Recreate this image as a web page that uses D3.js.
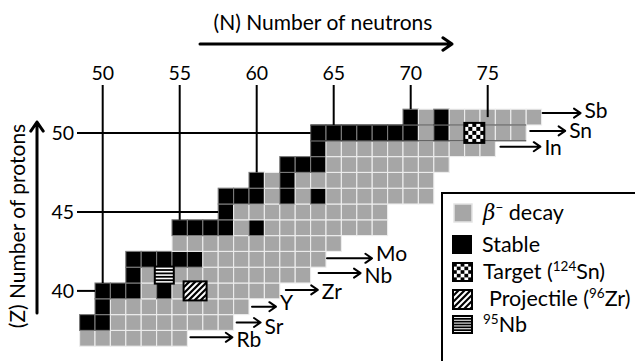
<!DOCTYPE html>
<html>
<head>
<meta charset="utf-8">
<script src="https://cdn.jsdelivr.net/npm/d3@7"></script>
<style>
  body { margin: 0; background: #fff; }
  svg { display: block; }
  text { font-family: Lato, "Open Sans", sans-serif; fill: #000; }
</style>
</head>
<body>
<svg id="chart" width="635" height="361"></svg>
<script>
// Section of the chart of nuclides around the 96Zr + 124Sn reaction.
const elements      = ["Rb", "Sr", "Y", "Zr", "Nb", "Mo", "Tc", "Ru", "Rh", "Pd", "Ag", "Cd", "In", "Sn", "Sb"];
const protonNumbers = [37, 38, 39, 40, 41, 42, 43, 44, 45, 46, 47, 48, 49, 50, 51];
// neutron range drawn for each element (first and last N)
const firstN = [49, 49, 50, 50, 52, 52, 55, 55, 58, 58, 60, 62, 64, 64, 70];
const lastN  = [55, 58, 59, 61, 63, 64, 65, 68, 68, 71, 71, 72, 75, 77, 78];
// stable isotopes (by neutron number) in each row
const stableN = [
  [],
  [49, 50],
  [50],
  [50, 51, 52, 54, 56],
  [52],
  [52, 53, 54, 55, 56],
  [],
  [55, 56, 57, 58, 60],
  [58],
  [58, 59, 60, 62, 64],
  [60, 62],
  [62, 63, 64],
  [64],
  [64, 65, 66, 67, 68, 69, 70, 72, 74],
  [70, 72]
];
// highlighted nuclides
const markedNuclides = [
  { kind: "target",     Z: 50, N: 74 },   // 124Sn
  { kind: "projectile", Z: 40, N: 56 },   // 96Zr
  { kind: "nb95",       Z: 41, N: 54 }    // 95Nb
];
const neutronTicks  = [50, 55, 60, 65, 70, 75];
const neutronTickZ  = [40, 44, 47, 50, 51, 51];  // row where each N guide line stops
const protonTicks   = [40, 45, 50];
const protonTickN   = [50, 58, 64];              // column where each Z guide line stops
// elements labelled with a decay-direction arrow
const arrowElements = ["Rb", "Sr", "Y", "Zr", "Nb", "Mo", "In", "Sn", "Sb"];

// ---- layout ----
const arrowLayout = {
  Rb: { gap: 3, len: 42, dy: -1, ty: 3 },
  Sr: { gap: 3, len: 24, dy: 0,  ty: 4 },
  Y:  { gap: 3, len: 24, dy: 0,  ty: -4 },
  Zr: { gap: 6, len: 32, dy: -1, ty: 2 },
  Nb: { gap: 8, len: 42, dy: -2, ty: 3 },
  Mo: { gap: 1, len: 45, dy: -1, ty: -4 },
  In: { gap: 5, len: 40, dy: -2, ty: 1 },
  Sn: { gap: 4, len: 35, dy: -2, ty: 0 },
  Sb: { gap: 1, len: 38, dy: -4, ty: -2 }
};
const markerSize = { target: [20, 20], projectile: [23, 19], nb95: [19, 17] };
const labelFont = 21;

const svg = d3.select("#chart");
const x = d3.scaleLinear().domain([49, 79]).range([79.6, 541.6]);   // left edge of column N
const y = d3.scaleLinear().domain([37, 52]).range([346.2, 109.2]);  // bottom edge of row Z
const cw = x(1) - x(0), ch = y(0) - y(1);
const cx = n => x(n) + cw / 2;
const cy = z => y(z + 1) + ch / 2;

// ---- cells ----
const cells = [];
protonNumbers.forEach((Z, i) => {
  d3.range(firstN[i], lastN[i] + 1).forEach(N => {
    cells.push({ Z, N, stable: stableN[i].includes(N) });
  });
});

svg.append("g").selectAll("rect").data(cells).join("rect")
  .attr("x", d => x(d.N))
  .attr("y", d => y(d.Z + 1))
  .attr("width", cw)
  .attr("height", ch)
  .attr("fill", d => d.stable ? "#000" : "#a6a6a6")
  .attr("stroke", d => d.stable ? "#7a7a7a" : "#ededed")
  .attr("stroke-width", 1.1);

// outline of the Z = 50 row
const snIdx = protonNumbers.indexOf(50);
[51, 50].forEach(z => {
  svg.append("line")
    .attr("x1", x(firstN[snIdx])).attr("x2", x(lastN[snIdx] + 1))
    .attr("y1", y(z)).attr("y2", y(z))
    .attr("stroke", "#333").attr("stroke-width", 1);
});

// ---- fill patterns ----
function checker(g, x0, y0, w, h, nx, ny) {
  g.append("rect").attr("x", x0).attr("y", y0).attr("width", w).attr("height", h).attr("fill", "#fff");
  const sx = w / nx, sy = h / ny;
  for (let i = 0; i < nx; i++) for (let j = 0; j < ny; j++) {
    if ((i + j) % 2 === 0) g.append("rect")
      .attr("x", x0 + i * sx).attr("y", y0 + j * sy)
      .attr("width", sx).attr("height", sy).attr("fill", "#000");
  }
  g.append("rect").attr("x", x0).attr("y", y0).attr("width", w).attr("height", h)
    .attr("fill", "none").attr("stroke", "#000").attr("stroke-width", 2);
}
let clipId = 0;
function hatch(g, x0, y0, w, h, spacing) {
  const id = "clip" + (clipId++);
  g.append("clipPath").attr("id", id).append("rect")
    .attr("x", x0).attr("y", y0).attr("width", w).attr("height", h);
  g.append("rect").attr("x", x0).attr("y", y0).attr("width", w).attr("height", h).attr("fill", "#fff");
  const inner = g.append("g").attr("clip-path", `url(#${id})`);
  d3.range(-h, w + h, spacing).forEach(o => {
    inner.append("line")
      .attr("x1", x0 + o).attr("y1", y0 + h)
      .attr("x2", x0 + o + h).attr("y2", y0)
      .attr("stroke", "#000").attr("stroke-width", 2.2);
  });
  g.append("rect").attr("x", x0).attr("y", y0).attr("width", w).attr("height", h)
    .attr("fill", "none").attr("stroke", "#000").attr("stroke-width", 2);
}
function stripes(g, x0, y0, w, h, n) {
  g.append("rect").attr("x", x0).attr("y", y0).attr("width", w).attr("height", h).attr("fill", "#fff");
  const step = h / (n + 1);
  d3.range(1, n + 1).forEach(k => {
    g.append("line").attr("x1", x0).attr("x2", x0 + w)
      .attr("y1", y0 + k * step).attr("y2", y0 + k * step)
      .attr("stroke", "#000").attr("stroke-width", 1.8);
  });
  g.append("rect").attr("x", x0).attr("y", y0).attr("width", w).attr("height", h)
    .attr("fill", "none").attr("stroke", "#000").attr("stroke-width", 2);
}

const marks = svg.append("g");
markedNuclides.forEach(m => {
  const [w, h] = markerSize[m.kind];
  const x0 = cx(m.N) - w / 2 + (m.kind === "target" ? 2 : 0), y0 = cy(m.Z) - h / 2;
  if (m.kind === "target") checker(marks, x0, y0, w, h, 5, 5);
  else if (m.kind === "projectile") hatch(marks, x0, y0, w, h, 6);
  else stripes(marks, x0, y0, w, h, 4);
});

// ---- guide lines and tick labels ----
const guides = svg.append("g");
neutronTicks.forEach((n, i) => {
  const z = neutronTickZ[i];
  const yEnd = n === 75 ? cy(z) : y(z + 1);
  guides.append("line").attr("x1", cx(n)).attr("x2", cx(n))
    .attr("y1", 85).attr("y2", yEnd)
    .attr("stroke", "#000").attr("stroke-width", 2);
  guides.append("text").attr("x", cx(n)).attr("y", 80)
    .attr("text-anchor", "middle").attr("font-size", 19.5).text(n);
});
protonTicks.forEach((z, i) => {
  guides.append("line").attr("x1", 77).attr("x2", x(protonTickN[i]))
    .attr("y1", cy(z)).attr("y2", cy(z))
    .attr("stroke", "#000").attr("stroke-width", 2);
  guides.append("text").attr("x", 74).attr("y", cy(z) + 7)
    .attr("text-anchor", "end").attr("font-size", 19.5).text(z);
});

// ---- arrows ----
function arrow(g, x1, y1, x2, y2, head, width) {
  const a = Math.atan2(y2 - y1, x2 - x1);
  const p = d3.path();
  p.moveTo(x1, y1); p.lineTo(x2, y2);
  p.moveTo(x2 - head * Math.cos(a - 0.6), y2 - head * Math.sin(a - 0.6));
  p.lineTo(x2, y2);
  p.lineTo(x2 - head * Math.cos(a + 0.6), y2 - head * Math.sin(a + 0.6));
  g.append("path").attr("d", p.toString()).attr("fill", "none")
    .attr("stroke", "#000").attr("stroke-width", width)
    .attr("stroke-linecap", "round").attr("stroke-linejoin", "round");
}

const arrowsG = svg.append("g");
arrowElements.forEach(sym => {
  const i = elements.indexOf(sym);
  const Z = protonNumbers[i];
  const L = arrowLayout[sym];
  const x1 = x(lastN[i] + 1) + L.gap, x2 = x1 + L.len, yy = cy(Z) + L.dy;
  arrow(arrowsG, x1, yy, x2, yy, 8, 2);
  arrowsG.append("text").attr("x", x2 + 4).attr("y", yy + L.ty + 7)
    .attr("font-size", labelFont).text(sym);
});

// axis titles
arrow(svg, 200, 44, 452, 44, 11, 3);
svg.append("text").attr("x", 323).attr("y", 30).attr("text-anchor", "middle")
  .attr("font-size", 21).text("(N) Number of neutrons");
arrow(svg, 37, 313, 37, 122, 11, 3);
svg.append("text").attr("transform", "translate(25,226) rotate(-90)")
  .attr("text-anchor", "middle").attr("font-size", 21).text("(Z) Number of protons");

// ---- legend ----
const lg = svg.append("g");
lg.append("rect").attr("x", 442).attr("y", 193).attr("width", 300).attr("height", 300)
  .attr("fill", "#fff").attr("stroke", "#000").attr("stroke-width", 2);
const rowY = [213, 245, 272, 299, 325];
const legFont = 21.5, supFont = 13.5;
lg.append("rect").attr("x", 454).attr("y", rowY[0] - 9).attr("width", 18).attr("height", 18)
  .attr("fill", "#a6a6a6").attr("stroke", "#e4e4e4").attr("stroke-width", 1.5);
lg.append("rect").attr("x", 452).attr("y", rowY[1] - 10).attr("width", 20).attr("height", 19).attr("fill", "#000");
checker(lg, 453, rowY[2] - 9, 19, 18, 5, 5);
hatch(lg, 453, rowY[3] - 9, 19, 19, 6);
stripes(lg, 453, rowY[4] - 9, 19, 17, 5);

const t0 = lg.append("text").attr("x", 483).attr("y", rowY[0] + 7).attr("font-size", legFont);
t0.append("tspan").attr("font-family", "'DejaVu Serif', serif").attr("font-style", "italic").text("β");
t0.append("tspan").attr("dy", -8).attr("font-size", supFont).text("−");
t0.append("tspan").attr("dy", 8).text(" decay");

lg.append("text").attr("x", 482).attr("y", rowY[1] + 7).attr("font-size", legFont).text("Stable");

const t2 = lg.append("text").attr("x", 483).attr("y", rowY[2] + 7).attr("font-size", legFont);
t2.append("tspan").text("Target (");
t2.append("tspan").attr("dy", -8).attr("font-size", supFont).text("124");
t2.append("tspan").attr("dy", 8).text("Sn)");

const t3 = lg.append("text").attr("x", 489).attr("y", rowY[3] + 7).attr("font-size", legFont);
t3.append("tspan").text("Projectile (");
t3.append("tspan").attr("dy", -8).attr("font-size", supFont).text("96");
t3.append("tspan").attr("dy", 8).text("Zr)");

const t4 = lg.append("text").attr("x", 483).attr("y", rowY[4] + 7).attr("font-size", legFont);
t4.append("tspan").attr("dy", -8).attr("font-size", supFont).text("95");
t4.append("tspan").attr("dy", 8).text("Nb");
</script>
</body>
</html>
